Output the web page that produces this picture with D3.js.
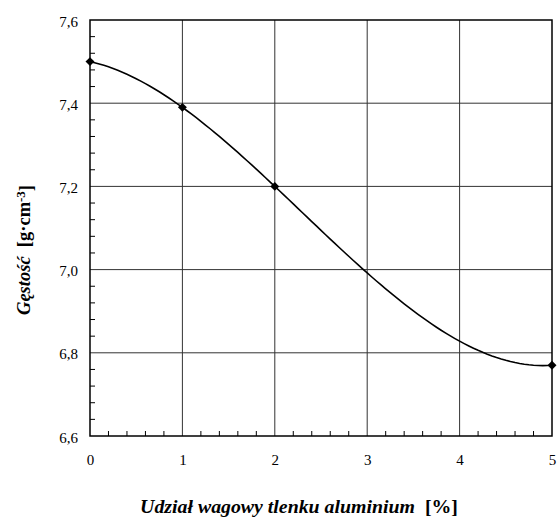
<!DOCTYPE html>
<html>
<head>
<meta charset="utf-8">
<script src="https://cdn.jsdelivr.net/npm/d3@7"></script>
<style>
  html, body { margin: 0; padding: 0; background: #fff; }
  svg { display: block; }
</style>
</head>
<body>
<svg id="chart" width="558" height="518"></svg>
<script>
// Measured densities for alumina weight fraction
const aluminaPct = [0, 1, 2, 5];
const density = [7.50, 7.39, 7.20, 6.77];

const xTicks = [0, 1, 2, 3, 4, 5];
const yTicks = [6.6, 6.8, 7.0, 7.2, 7.4, 7.6];

const SERIF = '"Liberation Serif"';

const svg = d3.select("#chart");
const margin = { left: 90, top: 20, right: 6, bottom: 82 };
const W = 558, H = 518;

const x = d3.scaleLinear().domain([0, 5]).range([margin.left, W - margin.right]);
const y = d3.scaleLinear().domain([6.6, 7.6]).range([H - margin.bottom, margin.top]);

const fmt = d => d3.format(".1f")(d).replace(".", ",");

// grid lines
const grid = svg.append("g");
grid.selectAll("line.v").data(xTicks.slice(1, -1)).join("line")
  .attr("x1", d => x(d)).attr("x2", d => x(d))
  .attr("y1", y(7.6)).attr("y2", y(6.6))
  .attr("stroke", "#333").attr("stroke-width", 1);
grid.selectAll("line.h").data(yTicks.slice(1, -1)).join("line")
  .attr("x1", x(0)).attr("x2", x(5))
  .attr("y1", d => y(d)).attr("y2", d => y(d))
  .attr("stroke", "#333").attr("stroke-width", 1);

// minor ticks pointing inward
const yMinor = d3.range(6.6, 7.6001, 0.04).filter(v => Math.abs(Math.round(v * 5) - v * 5) > 1e-6);
svg.append("g").selectAll("line").data(yMinor).join("line")
  .attr("x1", x(0)).attr("x2", x(0) + 5)
  .attr("y1", d => y(d)).attr("y2", d => y(d))
  .attr("stroke", "#000").attr("stroke-width", 1);
const xMinor = d3.range(0, 5.0001, 0.2).filter(v => Math.abs(Math.round(v) - v) > 1e-6);
svg.append("g").selectAll("line").data(xMinor).join("line")
  .attr("x1", d => x(d)).attr("x2", d => x(d))
  .attr("y1", y(6.6)).attr("y2", y(6.6) - 5)
  .attr("stroke", "#000").attr("stroke-width", 1);

// frame
svg.append("rect")
  .attr("x", x(0)).attr("y", y(7.6))
  .attr("width", x(5) - x(0)).attr("height", y(6.6) - y(7.6))
  .attr("fill", "none").attr("stroke", "#000").attr("stroke-width", 1.5);

// tick labels
const yAxis = d3.axisLeft(y).tickValues(yTicks).tickFormat(fmt).tickSize(0).tickPadding(12);
const gy = svg.append("g").attr("transform", `translate(${x(0)},0)`).call(yAxis);
gy.select(".domain").remove();
gy.attr("font-family", null).attr("font-size", null);
gy.selectAll("text").style("font-family", SERIF).attr("font-size", 15).attr("fill", "#000").attr("dy", "0.4em");

const xAxis = d3.axisBottom(x).tickValues(xTicks).tickFormat(d3.format("d")).tickSize(0).tickPadding(18);
const gx = svg.append("g").attr("transform", `translate(0,${y(6.6)})`).call(xAxis);
gx.select(".domain").remove();
gx.attr("font-family", null).attr("font-size", null);
gx.selectAll("text").style("font-family", SERIF).attr("font-size", 15).attr("fill", "#000");

// 3rd-order polynomial trendline fitted to the measurements (least squares)
function polyFit(xs, ys, order) {
  const n = order + 1;
  const A = Array.from({ length: n }, () => new Array(n + 1).fill(0));
  xs.forEach((xv, k) => {
    for (let i = 0; i < n; i++) {
      for (let j = 0; j < n; j++) A[i][j] += Math.pow(xv, i + j);
      A[i][n] += ys[k] * Math.pow(xv, i);
    }
  });
  for (let i = 0; i < n; i++) {
    let p = i;
    for (let r = i + 1; r < n; r++) if (Math.abs(A[r][i]) > Math.abs(A[p][i])) p = r;
    [A[i], A[p]] = [A[p], A[i]];
    for (let r = 0; r < n; r++) {
      if (r === i) continue;
      const f = A[r][i] / A[i][i];
      for (let c = i; c <= n; c++) A[r][c] -= f * A[i][c];
    }
  }
  return A.map((row, i) => row[n] / row[i]);
}
const coef = polyFit(aluminaPct, density, 3);
const trend = v => coef.reduce((s, c, i) => s + c * Math.pow(v, i), 0);
const trendPts = d3.range(0, 5.0001, 0.05).map(v => [v, trend(v)]);

svg.append("path")
  .datum(trendPts)
  .attr("d", d3.line().x(d => x(d[0])).y(d => y(d[1])))
  .attr("fill", "none").attr("stroke", "#000").attr("stroke-width", 1.6);

// square diamond markers
const squareDiamond = {
  draw(ctx, size) {
    const r = Math.sqrt(size / 2);
    ctx.moveTo(0, -r); ctx.lineTo(r, 0); ctx.lineTo(0, r); ctx.lineTo(-r, 0); ctx.closePath();
  }
};
svg.append("g").selectAll("path").data(aluminaPct.map((v, i) => [v, density[i]])).join("path")
  .attr("transform", d => `translate(${x(d[0])},${y(d[1])})`)
  .attr("d", d3.symbol(squareDiamond, 40))
  .attr("fill", "#000");

// size a title so that it spans the given width
function fitWidth(t, base, width) {
  t.attr("font-size", base);
  const w = t.node().getComputedTextLength();
  t.attr("font-size", base * width / w);
}

// axis titles
const xt = svg.append("text")
  .attr("x", 299).attr("y", 513)
  .attr("text-anchor", "middle")
  .style("font-family", SERIF).attr("font-weight", "bold").attr("fill", "#000");
xt.append("tspan").attr("font-style", "italic").text("Udział wagowy tlenku aluminium");
xt.append("tspan").attr("xml:space", "preserve").text("  [%]");
fitWidth(xt, 18, 318);

const yt = svg.append("text")
  .attr("transform", "translate(30,250) rotate(-90)")
  .attr("text-anchor", "middle")
  .style("font-family", SERIF).attr("font-weight", "bold").attr("fill", "#000");
yt.append("tspan").attr("font-style", "italic").text("Gęstość");
yt.append("tspan").attr("xml:space", "preserve").text("  [g·cm");
yt.append("tspan").attr("font-size", "0.7em").attr("dy", "-0.4em").text("-3");
yt.append("tspan").attr("dy", "0.4em").text("]");
fitWidth(yt, 16, 130);
</script>
</body>
</html>
